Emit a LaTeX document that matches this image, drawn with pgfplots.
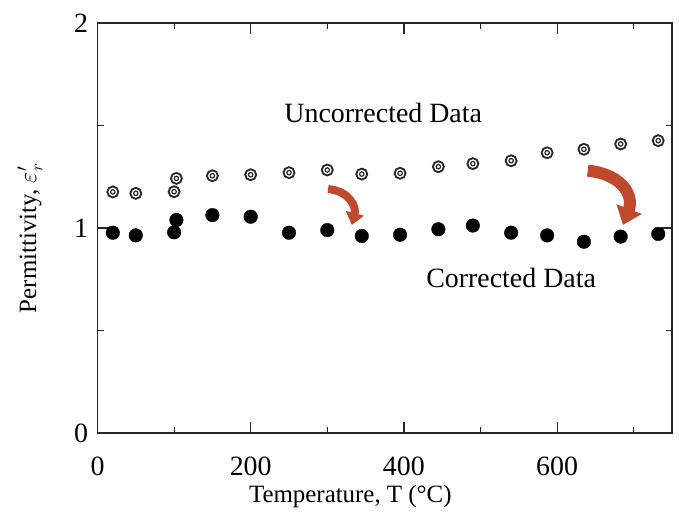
\documentclass[border=0pt]{standalone}
\usepackage{fontspec}
\setmainfont{Liberation Serif}
\usepackage{pgfplots}
\usepackage{pgfplotstable}
\pgfplotsset{compat=1.18}
\usetikzlibrary{arrows.meta}
\definecolor{arrowred}{RGB}{192,72,45}

% temperature, uncorrected and corrected permittivity
\pgfplotstableread{
T    unc    cor
20   1.176  0.977
50   1.169  0.964
100  1.177  0.979
103  1.242  1.039
150  1.255  1.063
200  1.260  1.055
250  1.270  0.977
300  1.283  0.990
345  1.263  0.961
395  1.267  0.967
445  1.299  0.994
490  1.314  1.012
540  1.328  0.977
587  1.367  0.964
635  1.384  0.933
683  1.410  0.958
732  1.426  0.971
}\permdata

\begin{document}
\begin{tikzpicture}
\begin{axis}[
    scale only axis,
    width=574.5bp, height=410bp,
    xmin=0, xmax=750, ymin=0, ymax=2,
    xtick={0,200,400,600}, minor xtick={100,300,500,700},
    ytick={0,1,2}, minor ytick={0.5,1.5},
    tick align=inside,
    major tick length=11bp, minor tick length=6bp,
    axis line style={line width=1.6bp, black!85},
    every tick/.style={line width=1.2bp, black!85},
    tick label style={font=\fontsize{28}{30}\selectfont},
    xticklabel style={yshift=-20bp},
    yticklabel style={xshift=-6bp},
    /pgf/number format/assume math mode=true,
    xlabel={Temperature, T (°C)},
    ylabel={Permittivity, $\varepsilon'_{r}$},
    label style={font=\fontsize{25}{28}\selectfont},
    xlabel style={at={(axis description cs:0.44,-0.155)}, anchor=center},
    ylabel style={at={(axis description cs:-0.1175,0.475)}, anchor=center},
    clip=false,
]
\addplot[only marks, mark=*, mark size=6.8bp, black] table[x=T, y=cor] {\permdata};
\addplot[only marks, mark=o, mark size=5.5bp, mark options={line width=1.8bp, black!85}] table[x=T, y=unc] {\permdata};
\addplot[only marks, mark=o, mark size=2.2bp, mark options={line width=1.2bp, black!85}] table[x=T, y=unc] {\permdata};

\node[font=\fontsize{28}{30}\selectfont] at (axis cs:373,1.56) {Uncorrected Data};
\node[font=\fontsize{28}{30}\selectfont] at (axis cs:540,0.756) {Corrected Data};

\draw[arrowred, line width=8bp, -{Triangle[width=18bp,length=12bp]}]
    (axis cs:301,1.19) .. controls (axis cs:330,1.18) and (axis cs:338,1.10) .. (axis cs:332,1.015);
\draw[arrowred, line width=12bp, -{Triangle[width=26bp,length=17bp]}]
    (axis cs:640,1.28) .. controls (axis cs:688,1.26) and (axis cs:700,1.15) .. (axis cs:686,1.015);
\end{axis}
\path (current axis.south west) ++(-97.5bp,-85bp) coordinate (bbA);
\path (current axis.north east) ++(7bp,23bp) coordinate (bbB);
\pgfresetboundingbox
\path[use as bounding box] (bbA) rectangle (bbB);
\end{tikzpicture}
\end{document}
